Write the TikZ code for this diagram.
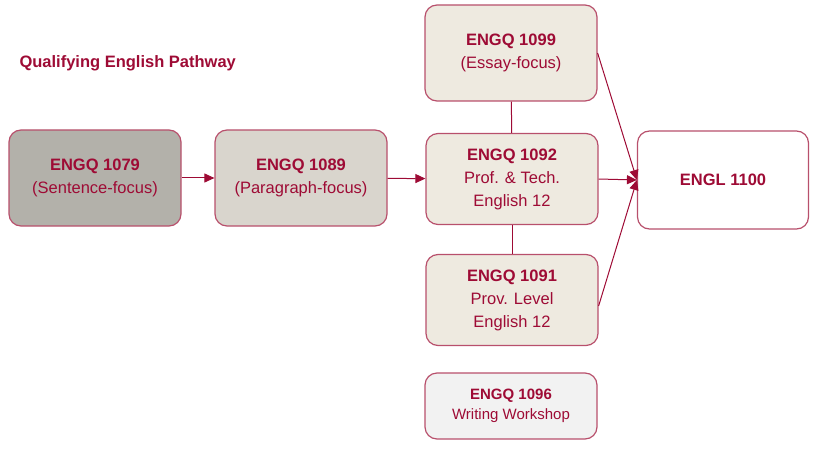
\documentclass[tikz,border=0pt]{standalone}
\usepackage{fontspec}
\setmainfont{Liberation Sans}
\usepackage{xcolor}
\usepackage{tikz}
\usetikzlibrary{arrows.meta}

\definecolor{crimson}{HTML}{9E0B35}
\definecolor{rim}{HTML}{B8506C}
\definecolor{darkgrey}{HTML}{B3B1AA}
\definecolor{midgrey}{HTML}{D9D5CD}
\definecolor{cream}{HTML}{EEEAE0}
\definecolor{pale}{HTML}{F2F2F2}

\tikzset{
  course/.style={draw=rim, line width=1.2pt, rounded corners=12pt, align=center,
    text=crimson, minimum width=172pt, inner sep=2pt,
    font=\fontsize{16.5}{23}\selectfont},
  link/.style={draw=crimson, line width=1pt},
  flow/.style={link, -{Triangle[length=10pt, width=9pt]}}
}

\begin{document}
\begin{tikzpicture}[x=1pt, y=-1pt]
\useasboundingbox (0,0) rectangle (813,449);

\node[anchor=west, text=crimson, font=\bfseries\fontsize{16.5}{20}\selectfont] (title) at (16,63) {Qualifying English Pathway};

% first column
\node[course, fill=darkgrey, minimum height=96pt] (q1079) at (95,178) {\textbf{ENGQ 1079}\\(Sentence-focus)};
\node[course, fill=midgrey, minimum height=96pt] (q1089) at (301,178) {\textbf{ENGQ 1089}\\(Paragraph-focus)};

% the three options
\node[course, fill=cream, minimum height=96pt] (q1099) at (511,53) {\textbf{ENGQ 1099}\\(Essay-focus)};
\node[course, fill=cream, minimum height=91pt] (q1092) at (512,179) {\textbf{ENGQ 1092}\\Prof. \& Tech.\\English 12};
\node[course, fill=cream, minimum height=91pt] (q1091) at (512,300) {\textbf{ENGQ 1091}\\Prov. Level\\English 12};
\node[course, fill=pale, minimum height=66pt, font=\fontsize{15}{20}\selectfont] (q1096) at (511,406) {\textbf{ENGQ 1096}\\Writing Workshop};

\node[course, fill=white, minimum width=171pt, minimum height=98pt] (l1100) at (723,180) {\textbf{ENGL 1100}};

\draw[link] (q1099) -- (q1092);
\draw[link] (q1092) -- (q1091);
\draw[flow] (q1079) -- (q1089);
\draw[flow] (q1089) -- (q1092);
\draw[flow] (q1099.east) -- (l1100.west);
\draw[flow] (q1092.east) -- (l1100.west);
\draw[flow] ([yshift=-6pt]q1091.east) -- (l1100.west);
\end{tikzpicture}
\end{document}
